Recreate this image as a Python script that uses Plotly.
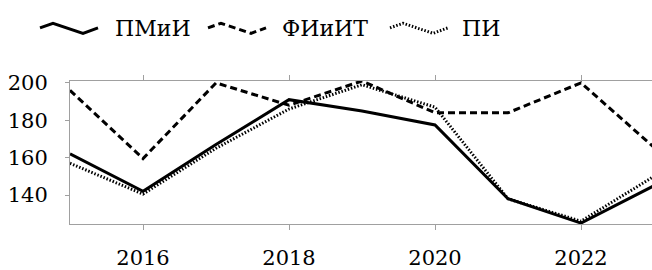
import plotly.graph_objects as go

years = [2015, 2016, 2017, 2018, 2019, 2020, 2021, 2022, 2023]
pmii = [162, 142, 167, 191, 185, 177.5, 138, 125, 145]
fiiit = [196, 159.5, 200, 188, 201, 184, 184, 200, 165.5]
pi = [157, 140.5, 165, 186, 199, 187, 138, 126, 150]
series_names = ["ПМиИ", "ФИиИТ", "ПИ"]
x_ticks = [2016, 2018, 2020, 2022]
y_ticks = [140, 160, 180, 200]

W, H = 652, 270
L, R, T, B = 70, 0, 81, 33
PW, PH = W - L - R, H - T - B

styles = [
    dict(color="black", width=3, dash="solid"),
    dict(color="black", width=3, dash="7px,4px"),
    dict(color="black", width=3, dash="1.5px,1.8px"),
]

fig = go.Figure()
for name, vals, st in zip(series_names, [pmii, fiiit, pi], styles):
    fig.add_trace(go.Scatter(x=years, y=vals, mode="lines", name=name,
                             line=st, showlegend=False))

FONT = "DejaVu Serif"

def px(xp):
    return (xp - L) / PW

def py(yp):
    return (H - B - yp) / PH

legend_items = [(40, 113), (208, 280), (390, 460)]
shape_offsets = [(0, 23), (13, 18), (43, 29), (58, 23)]
for (x0, tx), name, st in zip(legend_items, series_names, styles):
    pts = [(px(x0 + dx), py(dy)) for dx, dy in shape_offsets]
    path = "M " + " L ".join(f"{a},{b}" for a, b in pts)
    fig.add_shape(type="path", path=path, xref="paper", yref="paper",
                  line=st)
    fig.add_annotation(x=px(tx), y=py(24), xref="paper", yref="paper",
                       text=name, showarrow=False, xanchor="left",
                       yanchor="middle", font=dict(family=FONT, size=22,
                                                   color="black"))

axis_gray = "#a0a0a0"
fig.update_xaxes(range=[2015, 2015 + PW / 73.0], tickvals=x_ticks,
                 showgrid=False, zeroline=False, showline=True,
                 linecolor=axis_gray, linewidth=1, mirror="ticks",
                 ticks="outside", ticklen=5, tickcolor=axis_gray,
                 tickfont=dict(family=FONT, size=21, color="black"),
                 ticklabelstandoff=10)
fig.update_yaxes(range=[124.5, 201], tickvals=y_ticks,
                 showgrid=False, zeroline=False, showline=True,
                 linecolor=axis_gray, linewidth=1, mirror=False,
                 ticks="outside", ticklen=4, tickcolor=axis_gray,
                 tickfont=dict(family=FONT, size=21, color="black"),
                 ticklabelstandoff=13)
fig.update_layout(width=W, height=H,
                  margin=dict(l=L, r=R, t=T, b=B, pad=0),
                  plot_bgcolor="white", paper_bgcolor="white",
                  showlegend=False)

fig.write_html("out.html", config={"displayModeBar": False},
               post_script="document.body.style.margin='0px';document.body.style.overflow='hidden';")
